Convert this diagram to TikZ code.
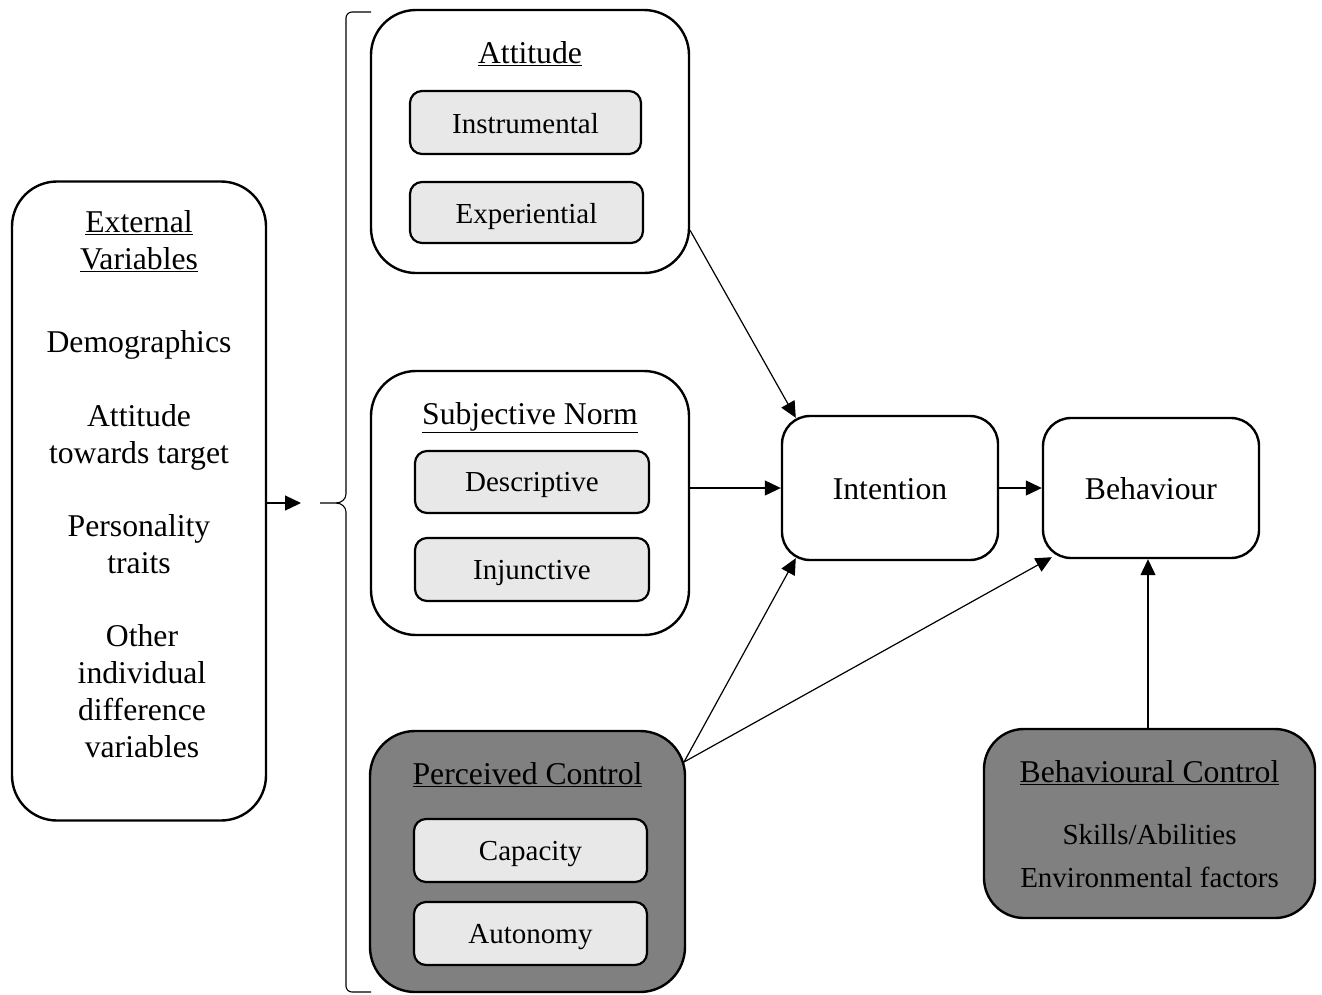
\documentclass[tikz,border=0pt]{standalone}
\usepackage{fontspec}
\setmainfont{Liberation Serif}
\usetikzlibrary{arrows.meta}
\definecolor{darkbox}{HTML}{808080}
\definecolor{lightbox}{HTML}{E8E8E8}
\begin{document}
\begin{tikzpicture}[x=1pt,y=-1pt,
  box/.style={draw, line width=2.4pt, inner sep=0pt, rounded corners=45pt},
  subbox/.style={draw, line width=2.2pt, inner sep=0pt, rounded corners=12pt, fill=lightbox},
  big/.style={font=\fontsize{31.7}{37}\selectfont, inner sep=0pt, anchor=base, align=center},
  small/.style={font=\fontsize{29}{34}\selectfont, inner sep=0pt, anchor=base},
  conn/.style={line width=1.2pt, -{Triangle[length=16pt,width=15pt]}},
  thin/.style={line width=1.1pt}]
\useasboundingbox (0,0) rectangle (1322,994);

% External variables
\node[box, minimum width=254pt, minimum height=639pt] (ext) at (139,501) {};
\node[big] (extt) at (139,269) {\underline{External}\\\underline{Variables}};
\node[big] (demo) at (139,352) {Demographics};
\node[big] (att2) at (139,463) {Attitude\\towards target};
\node[big] (pers) at (139,573) {Personality\\traits};
\node[big] (other) at (142,757) {Other\\individual\\difference\\variables};

% brace
\coordinate (bt) at (320,503);
\draw[thin] (371,12) -- (352,12) to[out=180,in=90] (346,18) -- (346,494)
  to[out=-90,in=0] (336,503) -- (bt);
\draw[thin] (336,503) to[out=0,in=90] (346,512) -- (346,986)
  to[out=-90,in=180] (352,992) -- (371,992);
\coordinate (at) at (301,503);
\draw[conn] (ext.east |- at) -- (at);

% Attitude
\node[box, minimum width=318pt, minimum height=263pt] (att) at (530,141.5) {};
\node[big] (attt) at (530,63) {\underline{Attitude}};
\node[subbox, minimum width=231pt, minimum height=63pt] (instr) at (525.5,122.5) {};
\node[small] at (525.5,133) {Instrumental};
\node[subbox, minimum width=233pt, minimum height=61pt] (exper) at (526.5,212.5) {};
\node[small] at (526.5,223) {Experiential};

% Subjective norm
\node[box, minimum width=318pt, minimum height=264pt] (sn) at (530,503) {};
\node[big] (snt) at (530,424) {\underline{Subjective Norm}};
\node[subbox, minimum width=234pt, minimum height=62pt] (desc) at (532,482) {};
\node[small] at (532,491) {Descriptive};
\node[subbox, minimum width=234pt, minimum height=63pt] (inj) at (532,569.5) {};
\node[small] at (532,579) {Injunctive};

% Perceived control
\node[box, fill=darkbox, minimum width=315pt, minimum height=261pt] (pc) at (527.5,861.5) {};
\node[big] (pct) at (527.5,784) {\underline{Perceived Control}};
\node[subbox, minimum width=233pt, minimum height=63pt] (cap) at (530.5,850.5) {};
\node[small] at (530.5,860) {Capacity};
\node[subbox, minimum width=233pt, minimum height=63pt] (aut) at (530.5,933.5) {};
\node[small] at (530.5,943) {Autonomy};

% Intention, Behaviour
\node[box, rounded corners=28pt, minimum width=216pt, minimum height=144pt] (int) at (890,488) {};
\node[big] (intt) at (890,499) {Intention};
\node[box, rounded corners=28pt, minimum width=216pt, minimum height=140pt] (beh) at (1151,488) {};
\node[big] (beht) at (1151,499) {Behaviour};

% Behavioural control
\node[box, fill=darkbox, rounded corners=40pt, minimum width=331pt, minimum height=189pt] (bc) at (1149.5,823.5) {};
\node[big] (bct) at (1149.5,782) {\underline{Behavioural Control}};
\node[small] (bcs) at (1149.5,844) {Skills/Abilities};
\node[small] (bce) at (1149.5,887) {Environmental factors};

% connectors
\draw[conn] ([yshift=-89pt]att.east) -- ([xshift=15pt,yshift=-3pt]int.north west);
\draw[conn] (sn.east |- int.west) -- (int.west);
\coordinate (pcs) at (684,762);
\draw[conn] (pcs) -- ([xshift=15pt,yshift=3pt]int.south west);
\draw[conn] (pcs) -- ([xshift=10pt,yshift=2pt]beh.south west);
\draw[conn] (int.east) -- (beh.west);
\draw[conn] ([xshift=-1.5pt]bc.north) -- ([xshift=-1.5pt]bc.north |- beh.south);
\end{tikzpicture}
\end{document}
